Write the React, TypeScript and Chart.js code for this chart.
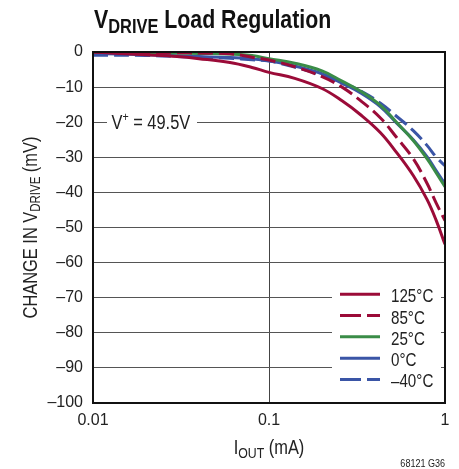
import React, { useEffect, useRef } from "react";
import { Chart, registerables } from "chart.js";

Chart.register(...registerables);

// ---- data ----
const currentsMA = [0.01, 0.02, 0.03, 0.04, 0.06, 0.08, 0.1, 0.14, 0.2, 0.26, 0.33, 0.43, 0.53, 0.66, 0.79, 0.89, 1];
const change125 = [0, -0.8, -1.3, -1.9, -3.0, -4.4, -5.8, -7.5, -10.4, -13.9, -17.8, -23.0, -28.6, -35.2, -42, -47.9, -54.8];
const change85 = [0, -0.2, -0.2, -0.3, -0.5, -1.5, -2.3, -4.2, -7.0, -10, -13.8, -18.8, -24.3, -30.4, -37.4, -43, -48];
const change25 = [0, -0.2, -0.3, -0.4, -0.6, -1.0, -1.9, -3.2, -5.4, -8.3, -11.1, -15.2, -20.0, -25.2, -30.4, -34.4, -38.4];
const change0 = [-0.4, -0.8, -1.1, -1.3, -1.6, -2.0, -2.5, -4.0, -6.2, -8.9, -11.6, -15.6, -20.2, -25.0, -29.8, -33.8, -37.6];
const changeM40 = [-0.9, -1.0, -1.3, -1.5, -1.8, -2.2, -2.6, -4.3, -6.6, -8.9, -11.0, -14.6, -18.3, -22.4, -26.6, -29.9, -32.4];
const seriesLabels = ["125°C", "85°C", "25°C", "0°C", "–40°C"];
const xTickValues = [0.01, 0.1, 1];
const xTickLabels = ["0.01", "0.1", "1"];
const yMin = -100;
const yMax = 0;
const yStep = 10;

// ---- styles ----
const RED = "#9b0b38";
const GREEN = "#3a8c47";
const BLUE = "#3a55a6";
const SANS = "'Liberation Sans', Arial, sans-serif";
const SX = 0.82; // condensed look
const DASH = [15, 6];

const seriesValues = [change125, change85, change25, change0, changeM40];
const seriesColors = [RED, RED, GREEN, BLUE, BLUE];
const seriesDashed = [false, true, false, false, true];

type Part = { text: string; font: string; dy?: number };

function drawRich(ctx: CanvasRenderingContext2D, parts: Part[], x: number, y: number, align: string, sx = SX) {
  let total = 0;
  for (const p of parts) {
    ctx.font = p.font;
    total += ctx.measureText(p.text).width * sx;
  }
  let cx = align === "center" ? x - total / 2 : align === "right" ? x - total : x;
  ctx.textAlign = "left";
  ctx.textBaseline = "alphabetic";
  for (const p of parts) {
    ctx.font = p.font;
    ctx.save();
    ctx.translate(cx, y + (p.dy || 0));
    ctx.scale(sx, 1);
    ctx.fillText(p.text, 0, 0);
    ctx.restore();
    cx += ctx.measureText(p.text).width * sx;
  }
}

const annotations = {
  id: "annotations",
  beforeDatasetsDraw(chart: any) {
    const ctx: CanvasRenderingContext2D = chart.ctx;
    const ya = chart.scales.y;
    const yLine = ya.getPixelForValue(-20);
    ctx.save();
    ctx.fillStyle = "#fff";
    ctx.fillRect(107, yLine - 12, 90, 24);
    ctx.fillStyle = "#222";
    drawRich(
      ctx,
      [
        { text: "V", font: `20px ${SANS}` },
        { text: "+", font: `13px ${SANS}`, dy: -8 },
        { text: " = 49.5V", font: `20px ${SANS}` },
      ],
      111.5,
      yLine + 7,
      "left"
    );
    ctx.restore();
  },
  afterDatasetsDraw(chart: any) {
    const ctx: CanvasRenderingContext2D = chart.ctx;
    const area = chart.chartArea;
    ctx.save();
    // legend box
    ctx.fillStyle = "#fff";
    ctx.fillRect(332, 281, 109, 110);
    const rows = [294.3, 315.5, 336.8, 358.2, 379.4];
    chart.data.datasets.forEach((ds: any, i: number) => {
      const y = rows[i];
      ctx.beginPath();
      ctx.strokeStyle = ds.borderColor;
      ctx.lineWidth = 3;
      ctx.setLineDash(ds.borderDash && ds.borderDash.length ? [21, 6] : []);
      ctx.moveTo(340, y);
      ctx.lineTo(380, y);
      ctx.stroke();
      ctx.setLineDash([]);
      ctx.fillStyle = "#222";
      drawRich(ctx, [{ text: ds.label, font: `18.5px ${SANS}` }], 391, y + 8, "left");
    });
    // plot border
    ctx.strokeStyle = "#111";
    ctx.lineWidth = 2;
    ctx.strokeRect(area.left, area.top, area.right - area.left, area.bottom - area.top);
    ctx.restore();
  },
  afterDraw(chart: any) {
    const ctx: CanvasRenderingContext2D = chart.ctx;
    const area = chart.chartArea;
    ctx.save();
    ctx.fillStyle = "#111";
    // title
    drawRich(
      ctx,
      [
        { text: "V", font: `bold 26px ${SANS}` },
        { text: "DRIVE", font: `bold 20px ${SANS}`, dy: 5 },
        { text: " Load Regulation", font: `bold 26px ${SANS}` },
      ],
      94,
      27.5,
      "left"
    );
    ctx.fillStyle = "#222";
    // x title
    drawRich(
      ctx,
      [
        { text: "I", font: `20px ${SANS}` },
        { text: "OUT", font: `15px ${SANS}`, dy: 4 },
        { text: " (mA)", font: `20px ${SANS}` },
      ],
      (area.left + area.right) / 2,
      454,
      "center"
    );
    // y title
    ctx.save();
    ctx.translate(36.5, (area.top + area.bottom) / 2);
    ctx.rotate(-Math.PI / 2);
    drawRich(
      ctx,
      [
        { text: "CHANGE IN V", font: `20px ${SANS}` },
        { text: "DRIVE", font: `14px ${SANS}`, dy: 3.5 },
        { text: " (mV)", font: `20px ${SANS}` },
      ],
      0,
      0,
      "center"
    );
    ctx.restore();
    // figure code
    drawRich(ctx, [{ text: "68121 G36", font: `11px ${SANS}` }], 445, 467, "right");
    ctx.restore();
  },
};

export default function App() {
  const ref = useRef<HTMLCanvasElement | null>(null);

  useEffect(() => {
    if (!ref.current) return;
    const datasets = seriesLabels.map((label, i) => ({
      label,
      data: currentsMA.map((x, j) => ({ x, y: seriesValues[i][j] })),
      borderColor: seriesColors[i],
      backgroundColor: seriesColors[i],
      borderWidth: 3,
      borderDash: seriesDashed[i] ? DASH : [],
      pointRadius: 0,
      tension: 0.4,
      fill: false,
    }));
    const chart = new Chart(ref.current, {
      type: "line",
      data: { datasets },
      options: {
        animation: false,
        responsive: false,
        maintainAspectRatio: false,
        devicePixelRatio: 1,
        layout: { padding: { top: 52, right: 14, left: 0, bottom: 0 } },
        plugins: {
          legend: { display: false },
          title: { display: false },
          tooltip: { enabled: false },
        },
        scales: {
          x: {
            type: "logarithmic",
            min: xTickValues[0],
            max: xTickValues[xTickValues.length - 1],
            afterBuildTicks: (scale: any) => {
              scale.ticks = xTickValues.map((v) => ({ value: v }));
            },
            afterFit: (scale: any) => {
              scale.height = 66;
            },
            ticks: {
              autoSkip: false,
              maxRotation: 0,
              padding: 8,
              color: "#222",
              font: { family: SANS, size: 16 },
              callback: (v: any) => {
                const idx = xTickValues.indexOf(Number(v));
                return idx >= 0 ? xTickLabels[idx] : "";
              },
            },
            grid: { color: "#444", lineWidth: 1, drawTicks: false },
            border: { display: false },
          },
          y: {
            type: "linear",
            min: yMin,
            max: yMax,
            afterFit: (scale: any) => {
              scale.width = 93;
            },
            ticks: {
              stepSize: yStep,
              padding: 10,
              color: "#222",
              font: { family: SANS, size: 16 },
              callback: (v: any) => (Number(v) < 0 ? "–" + Math.abs(Number(v)) : String(v)),
            },
            grid: { color: "#555", lineWidth: 1, drawTicks: false },
            border: { display: false },
          },
        },
      },
      plugins: [annotations],
    });
    return () => chart.destroy();
  }, []);

  return (
    <div style={{ position: "fixed", left: 0, top: 0, width: 459, height: 469, background: "#fff" }}>
      <canvas ref={ref} width={459} height={469} style={{ width: 459, height: 469, display: "block" }} />
    </div>
  );
}
